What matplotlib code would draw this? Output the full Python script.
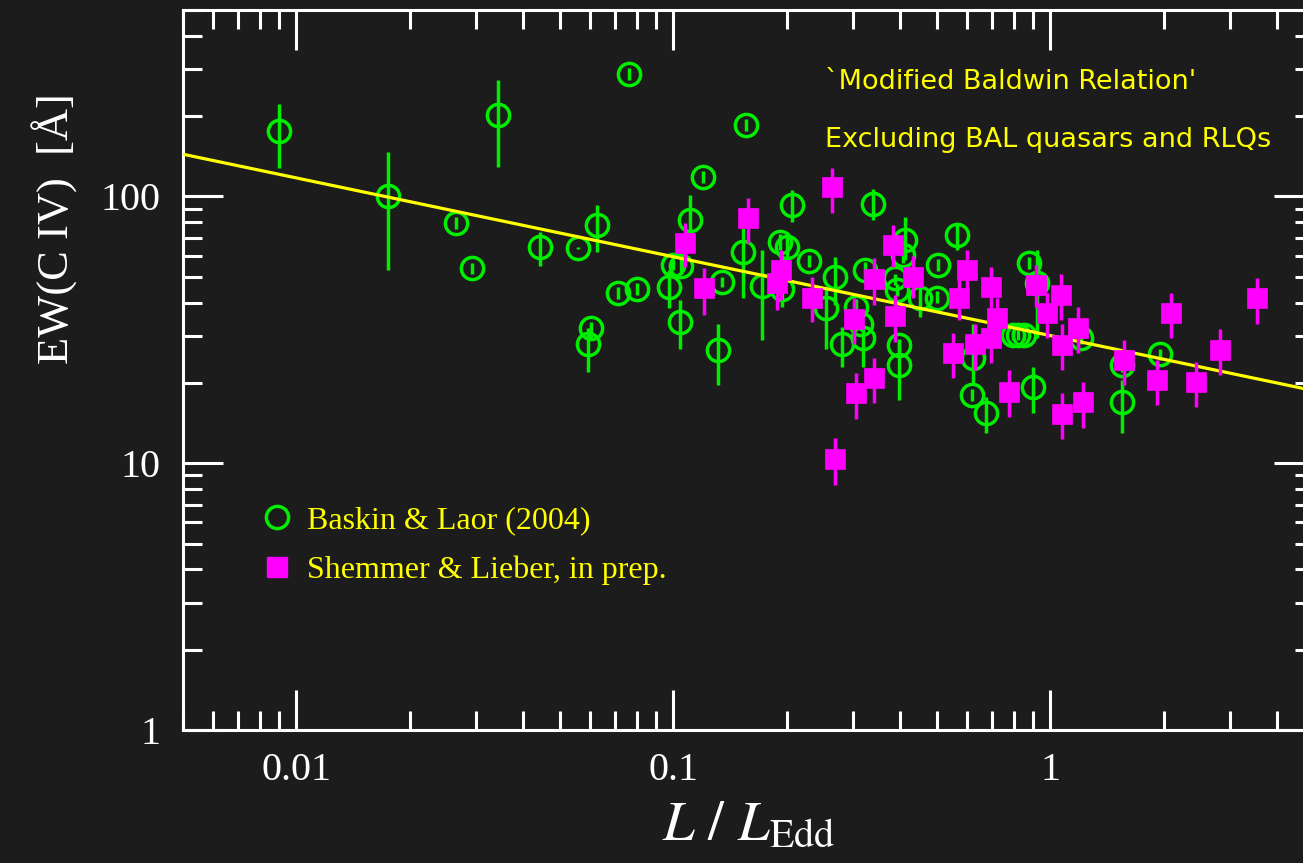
import numpy as np
import matplotlib
matplotlib.use("Agg")
import matplotlib.pyplot as plt
from matplotlib.lines import Line2D
from matplotlib.ticker import LogLocator, NullFormatter

# Baskin & Laor (2004): L/LEdd, EW(C IV), error bar top, error bar bottom
bl_x = [0.00896, 0.0175, 0.0265, 0.0292, 0.0342, 0.0442, 0.0557, 0.0626, 0.0711, 0.0798,
        0.0603, 0.0592, 0.0760, 0.1201, 0.1103, 0.0994, 0.1050, 0.0970, 0.1043, 0.1315,
        0.1348, 0.1532, 0.1560, 0.1720, 0.2064, 0.1919, 0.2002, 0.1943, 0.2290, 0.2683,
        0.2540, 0.3381, 0.2799, 0.3048, 0.3143, 0.3182, 0.3221, 0.4110, 0.4060, 0.3867,
        0.3915, 0.4501, 0.4994, 0.5025, 0.5641, 0.3962, 0.3962, 0.6218, 0.6180, 0.6730,
        0.8746, 0.9183, 0.7934, 0.8178, 0.8483, 0.8962, 1.208, 1.550, 1.550, 1.954]
bl_y = [175.2, 100.0, 79.2, 53.8, 202.8, 64.4, 63.9, 77.9, 43.3, 44.8,
        32.0, 27.9, 288.9, 118.8, 81.3, 55.2, 54.7, 45.6, 33.7, 26.5,
        47.6, 61.7, 186.1, 46.0, 93.3, 67.3, 64.4, 44.8, 57.1, 49.7,
        38.1, 94.1, 28.1, 38.4, 33.4, 29.6, 52.8, 68.4, 60.1, 49.3,
        44.5, 41.8, 41.8, 55.2, 71.4, 27.7, 23.3, 24.9, 18.0, 15.4,
        56.1, 47.2, 30.2, 30.2, 30.2, 19.3, 29.6, 23.3, 16.9, 25.6]
bl_hi = [223.0, 147.4, 83.4, 56.1, 274.4, 73.3, 64.5, 93.3, 45.6, 47.2,
         33.7, 32.2, 304.1, 125.1, 101.7, 57.6, 58.6, 52.8, 40.8, 33.4,
         49.7, 75.9, 196.0, 62.8, 105.3, 72.1, 70.2, 60.1, 60.1, 59.1,
         45.2, 107.1, 32.3, 41.2, 35.8, 32.9, 56.6, 83.4, 64.4, 51.0,
         46.8, 46.4, 44.1, 58.1, 79.2, 29.1, 28.9, 33.4, 18.9, 17.7,
         59.1, 62.8, 31.5, 31.5, 31.5, 22.9, 31.2, 24.7, 20.5, 26.9]
bl_lo = [128.4, 52.8, 75.3, 51.4, 129.5, 54.7, 63.3, 61.7, 41.2, 42.6,
         29.6, 21.9, 274.4, 112.8, 74.6, 52.8, 51.0, 38.1, 26.9, 19.6,
         45.6, 41.8, 176.7, 28.9, 79.9, 62.8, 59.1, 38.4, 54.2, 39.1,
         26.9, 81.3, 22.9, 35.8, 31.2, 22.9, 49.3, 57.6, 56.1, 46.4,
         42.4, 35.2, 39.8, 52.4, 62.8, 26.3, 17.2, 19.9, 17.1, 13.0,
         53.3, 29.6, 28.9, 28.9, 28.9, 15.4, 28.1, 21.9, 13.0, 24.3]

# Shemmer & Lieber, in prep.
sl_x = [0.2634, 0.1579, 0.1076, 0.1208, 0.1931, 0.1884, 0.2332, 0.3820, 0.3402, 0.4314,
        0.3867, 0.3012, 0.3402, 0.3048, 0.2683, 0.5995, 0.5710, 0.5505, 0.6294, 0.6938,
        0.7196, 0.6938, 0.7743, 0.9128, 0.9759, 1.063, 1.076, 1.186, 1.076, 1.223,
        1.570, 1.919, 2.090, 2.433, 2.818, 3.528]
sl_y = [108.1, 82.7, 66.7, 45.2, 52.8, 47.2, 41.8, 65.6, 48.9, 50.1,
        35.5, 34.6, 20.8, 18.3, 10.4, 52.8, 41.5, 25.8, 28.1, 45.6,
        34.9, 29.4, 18.5, 46.4, 36.5, 42.6, 27.7, 32.0, 15.3, 16.9,
        24.3, 20.5, 36.5, 20.1, 26.5, 41.5]
sl_hi = [128.4, 99.1, 79.2, 53.8, 62.8, 51.9, 50.1, 78.5, 58.6, 59.6,
         42.6, 41.8, 24.9, 21.7, 12.4, 62.8, 48.5, 30.9, 33.4, 54.2,
         41.5, 38.4, 22.3, 55.2, 43.3, 51.0, 33.4, 38.4, 18.3, 20.1,
         28.9, 24.3, 43.3, 23.9, 31.8, 49.3]
sl_lo = [86.4, 66.7, 54.2, 35.8, 40.8, 37.4, 33.7, 54.2, 39.1, 41.8,
         28.4, 28.1, 16.8, 14.7, 8.27, 43.3, 34.3, 20.8, 22.3, 38.4,
         28.9, 23.7, 14.9, 38.4, 29.4, 34.3, 22.3, 25.8, 12.3, 13.6,
         19.6, 16.5, 29.4, 16.2, 21.4, 33.4]

# modified Baldwin relation (fit line end points)
fit_x = [0.005, 5.0]
fit_y = [144.0, 18.7]

green = "#00ee00"
magenta = "#ff00ff"
yellow = "#ffff00"
bg = "#1c1c1c"

plt.rcParams["mathtext.fontset"] = "stix"

fig = plt.figure(figsize=(13.03, 8.63), dpi=100, facecolor=bg)
ax = fig.add_axes([0.14045, 0.15411, 0.868, 0.8343])
ax.set_facecolor(bg)
ax.set_xscale("log")
ax.set_yscale("log")

bl_x, bl_y = np.array(bl_x), np.array(bl_y)
sl_x, sl_y = np.array(sl_x), np.array(sl_y)

ax.errorbar(bl_x, bl_y, yerr=[bl_y - np.array(bl_lo), np.array(bl_hi) - bl_y],
            fmt="o", mfc="none", mec=green, ms=16, mew=2.5,
            ecolor=green, elinewidth=2.5, capsize=0, zorder=3)
ax.plot(fit_x, fit_y, color=yellow, lw=2.3, zorder=4)
ax.errorbar(sl_x, sl_y, yerr=[sl_y - np.array(sl_lo), np.array(sl_hi) - sl_y],
            fmt="s", mfc=magenta, mec=magenta, ms=15, mew=0.5,
            ecolor=magenta, elinewidth=2.5, capsize=0, zorder=5)

ax.set_xlim(0.005, 5)
ax.set_ylim(1, 500)

ax.set_xticks([0.01, 0.1, 1])
ax.set_xticklabels(["0.01", "0.1", "1"])
ax.set_yticks([1, 10, 100])
ax.set_yticklabels(["1", "10", "100"])
ax.xaxis.set_minor_locator(LogLocator(base=10, subs=np.arange(2, 10)))
ax.yaxis.set_minor_locator(LogLocator(base=10, subs=np.arange(2, 10)))
ax.xaxis.set_minor_formatter(NullFormatter())
ax.yaxis.set_minor_formatter(NullFormatter())

for s in ax.spines.values():
    s.set_color("white")
    s.set_linewidth(2.2)
ax.tick_params(which="both", direction="in", top=True, right=True,
               color="white", width=2.2, labelcolor="white",
               labelsize=29, pad=16)
ax.tick_params(which="major", length=29)
ax.tick_params(which="minor", length=14)
for lab in ax.get_xticklabels() + ax.get_yticklabels():
    lab.set_fontfamily("Liberation Serif")

ax.set_ylabel("EW(C IV)  [Å]", fontsize=32, color="white", family="Liberation Serif")
ax.yaxis.set_label_coords(-0.093, 0.697)
ax.set_xlabel(r"$L\ /\ L_{\mathrm{Edd}}$", fontsize=41, color="white")
ax.xaxis.set_label_coords(0.5, -0.092)

ax.text(0.5676, 0.90, "`Modified Baldwin Relation'", transform=ax.transAxes,
        color=yellow, fontsize=19.5, va="center", ha="left")
ax.text(0.5676, 0.8194, "Excluding BAL quasars and RLQs", transform=ax.transAxes,
        color=yellow, fontsize=19.5, va="center", ha="left")

handles = [Line2D([], [], ls="none", marker="o", mfc="none", mec=green, ms=16, mew=2.5),
           Line2D([], [], ls="none", marker="s", mfc=magenta, mec=magenta, ms=15)]
leg = ax.legend(handles, ["Baskin & Laor (2004)", "Shemmer & Lieber, in prep."],
                loc="upper left", bbox_to_anchor=(0.069, 0.311), frameon=False,
                borderpad=0, borderaxespad=0, handlelength=1.0, handletextpad=0.45,
                labelspacing=0.64, prop={"family": "Liberation Serif", "size": 23})
for t in leg.get_texts():
    t.set_color(yellow)

fig.savefig("out.png", dpi=100, facecolor=bg)
